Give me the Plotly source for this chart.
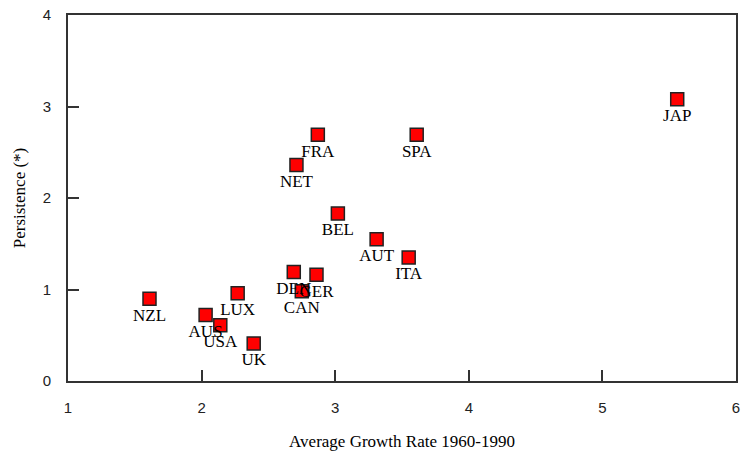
import plotly.graph_objects as go

# 국가별 평균 성장률 vs persistence
countries = ["NZL", "AUS", "USA", "LUX", "UK", "DEN", "GER", "CAN",
             "FRA", "NET", "SPA", "BEL", "AUT", "ITA", "JAP"]
growth = [1.61, 2.03, 2.14, 2.27, 2.39, 2.69, 2.86, 2.75,
          2.87, 2.71, 3.61, 3.02, 3.31, 3.55, 5.56]
persistence = [0.90, 0.72, 0.61, 0.96, 0.41, 1.19, 1.16, 0.98,
               2.69, 2.36, 2.69, 1.83, 1.55, 1.35, 3.08]

x_ticks = [1, 2, 3, 4, 5, 6]
y_ticks = [0, 1, 2, 3, 4]

SERIF = "Liberation Serif, Times New Roman, serif"
SANS = "Liberation Sans, Arial, sans-serif"

fig = go.Figure(
    go.Scatter(
        x=growth,
        y=persistence,
        mode="markers+text",
        text=countries,
        textposition="bottom center",
        textfont=dict(family=SERIF, size=17, color="black"),
        marker=dict(symbol="square", size=13, color="#FF0000",
                    line=dict(color="#222222", width=1.5)),
        showlegend=False,
        cliponaxis=False,
    )
)

axis_common = dict(
    showgrid=False,
    zeroline=False,
    showline=True,
    linecolor="#333333",
    linewidth=2,
    mirror=True,
    ticks="inside",
    ticklen=11,
    tickwidth=1.5,
    tickcolor="#333333",
    tickfont=dict(family=SANS, size=15, color="#222222"),
    automargin=False,
)

fig.update_xaxes(
    range=[1, 6], tickvals=x_ticks,
    title=dict(text="Average Growth Rate 1960-1990",
               font=dict(family=SERIF, size=17, color="black"), standoff=20),
    ticklabelstandoff=12,
    **axis_common,
)
fig.update_yaxes(
    range=[0, 4], tickvals=y_ticks,
    title=dict(text="Persistence (*)",
               font=dict(family=SERIF, size=17, color="black"), standoff=13),
    ticklabelstandoff=12,
    **axis_common,
)

fig.update_layout(
    width=742,
    height=458,
    margin=dict(l=68, r=6, t=15, b=77),
    plot_bgcolor="white",
    paper_bgcolor="white",
)

# body 기본 여백 제거, 모드바 숨김
fig.write_html("out.html", config={"displayModeBar": False},
               post_script="document.body.style.margin='0';")
